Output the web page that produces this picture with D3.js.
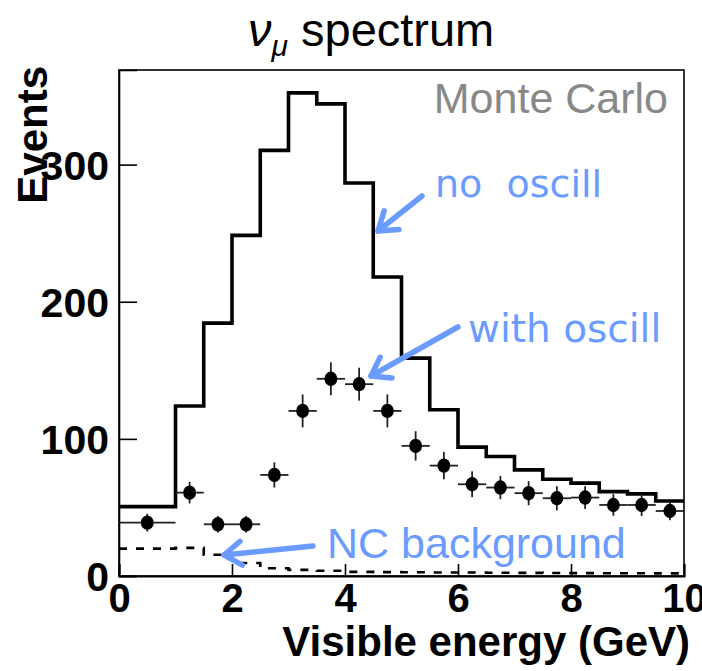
<!DOCTYPE html>
<html>
<head>
<meta charset="utf-8">
<script src="https://cdn.jsdelivr.net/npm/d3@7"></script>
<style>
  html, body { margin: 0; padding: 0; background: #fff; }
  svg { display: block; }
</style>
</head>
<body>
<svg id="chart" width="702" height="671"></svg>
<script>
// Bin edges of the visible-energy histograms (GeV): one 1 GeV bin, then 0.5 GeV bins
const binEdges = [0, 1, 1.5, 2, 2.5, 3, 3.5, 4, 4.5, 5, 5.5, 6, 6.5, 7, 7.5, 8, 8.5, 9, 9.5, 10];

// Monte Carlo expectation without oscillation (events per bin)
const noOscill = [50.6, 124, 184.4, 248.4, 310.4, 352.3, 344.3, 286.6, 218, 158.9,
                  121.2, 94, 87.1, 77.4, 70.6, 67.7, 61.5, 59.9, 54.7];

// Monte Carlo expectation with oscillation (points with statistical errors)
const withOscill = [38.9, 60.8, 37.7, 37.7, 73.7, 120.4, 143.8, 139.9, 120.4, 94.9,
                    80.5, 66.9, 64.5, 60.4, 56.7, 57.2, 51.8, 51.8, 47.4];
const withOscillErr = [6.5, 7.9, 6, 6, 9.2, 12, 12, 12, 12, 10.7,
                       10, 9.4, 8.5, 8.8, 8.8, 8.3, 7.9, 8, 6.7];

// Neutral-current background
const ncBackground = [20, 20.5, 15.5, 9.5, 5.6, 4.5, 3.8, 3, 2.8, 2.7,
                      2.6, 2.5, 2.4, 2.3, 2.2, 2.1, 2, 2, 1.9];

const xTicks = [0, 2, 4, 6, 8, 10];
const yTicks = [0, 100, 200, 300];

const FONT = "'Liberation Sans', Arial, Helvetica, sans-serif";
const BLUE = "#6b9bff";

const svg = d3.select("#chart");

const x = d3.scaleLinear().domain([0, 10]).range([119, 684]);
const y = d3.scaleLinear().domain([0, 369]).range([576, 70]);

// Step path through the bins of a histogram
function stepPath(values) {
  const pts = [];
  values.forEach((v, i) => {
    pts.push([x(binEdges[i]), y(v)]);
    pts.push([x(binEdges[i + 1]), y(v)]);
  });
  return d3.line()(pts);
}

// Frame
svg.append("rect")
  .attr("x", x(0)).attr("y", y(369))
  .attr("width", x(10) - x(0)).attr("height", y(0) - y(369))
  .attr("fill", "none").attr("stroke", "#000").attr("stroke-width", 1.6);

// Axes with inward ticks
const xAxis = d3.axisBottom(x).tickValues(xTicks).tickSize(-12).tickPadding(20).tickFormat(d3.format("d"));
const gx = svg.append("g").attr("transform", `translate(0,${y(0)})`).call(xAxis);
gx.select(".domain").attr("stroke-width", 2);
gx.selectAll(".tick line").attr("stroke-width", 1.6);
gx.selectAll(".tick text")
  .attr("font-family", FONT).attr("font-size", 40).attr("font-weight", "bold")
  .attr("fill", "#000").attr("dy", "0.71em").attr("y", 8);

const yAxis = d3.axisLeft(y).tickValues(yTicks).tickSize(-18).tickPadding(10).tickFormat(d3.format("d"));
const gy = svg.append("g").attr("transform", `translate(${x(0)},0)`).call(yAxis);
gy.select(".domain").attr("stroke-width", 1.6);
gy.selectAll(".tick line").attr("stroke-width", 1.6);
gy.selectAll(".tick text")
  .attr("font-family", FONT).attr("font-size", 41).attr("font-weight", "bold")
  .attr("fill", "#000").attr("x", -10).attr("dy", "0.36em");

// NC background (dashed histogram)
svg.append("path")
  .attr("d", stepPath(ncBackground))
  .attr("fill", "none").attr("stroke", "#000").attr("stroke-width", 2.6)
  .attr("stroke-dasharray", "8,9");

// No-oscillation histogram
svg.append("path")
  .attr("d", stepPath(noOscill))
  .attr("fill", "none").attr("stroke", "#000").attr("stroke-width", 3.6)
  .attr("stroke-linejoin", "miter");

// With-oscillation points
const centers = binEdges.slice(0, -1).map((e, i) => (e + binEdges[i + 1]) / 2);
const pts = svg.append("g");
withOscill.forEach((v, i) => {
  const g = pts.append("g");
  g.append("line")
    .attr("x1", x(binEdges[i])).attr("x2", x(binEdges[i + 1]))
    .attr("y1", y(v)).attr("y2", y(v))
    .attr("stroke", "#222").attr("stroke-width", 1.8);
  g.append("line")
    .attr("x1", x(centers[i])).attr("x2", x(centers[i]))
    .attr("y1", y(v - withOscillErr[i])).attr("y2", y(v + withOscillErr[i]))
    .attr("stroke", "#222").attr("stroke-width", 1.8);
  g.append("ellipse")
    .attr("cx", x(centers[i])).attr("cy", y(v))
    .attr("rx", 6.4).attr("ry", 7.2)
    .attr("fill", "#000");
});

// Axis titles
svg.append("text")
  .attr("x", 690).attr("y", 656)
  .attr("text-anchor", "end")
  .attr("font-family", FONT).attr("font-size", 42).attr("font-weight", "bold")
  .text("Visible energy (GeV)");

svg.append("text")
  .attr("transform", "translate(47,66) rotate(-90)")
  .attr("text-anchor", "end")
  .attr("font-family", FONT).attr("font-size", 42).attr("font-weight", "bold")
  .text("Events");

// Title
const title = svg.append("text")
  .attr("x", 248).attr("y", 46)
  .attr("font-family", FONT).attr("font-size", 47);
title.append("tspan").attr("font-style", "italic").text("ν");
title.append("tspan").attr("font-style", "italic").attr("font-size", 30).attr("dy", 10).text("μ");
title.append("tspan").attr("dy", -10).text(" spectrum");

// Monte Carlo label
svg.append("text")
  .attr("x", 668).attr("y", 113)
  .attr("text-anchor", "end")
  .attr("font-family", FONT).attr("font-size", 43).attr("fill", "#888")
  .text("Monte Carlo");

// Annotation arrows
function arrow(x1, y1, x2, y2) {
  const ang = Math.atan2(y2 - y1, x2 - x1);
  const len = 21, spread = Math.PI / 5.2;
  const a1 = [x2 - len * Math.cos(ang - spread), y2 - len * Math.sin(ang - spread)];
  const a2 = [x2 - len * Math.cos(ang + spread), y2 - len * Math.sin(ang + spread)];
  const g = svg.append("g")
    .attr("stroke", BLUE).attr("stroke-width", 5.5)
    .attr("stroke-linecap", "round").attr("stroke-linejoin", "round")
    .attr("fill", "none");
  g.append("line").attr("x1", x1).attr("y1", y1).attr("x2", x2).attr("y2", y2);
  g.append("path").attr("d", d3.line()([a1, [x2, y2], a2]));
}

arrow(422, 196, 378, 231);
arrow(458, 327, 371, 376);
arrow(313, 546, 224, 555);

// Annotation labels
const HAND = "'Comic Sans MS', 'DejaVu Sans', sans-serif";
svg.append("text")
  .attr("x", 435).attr("y", 197)
  .attr("font-family", HAND).attr("font-size", 38).attr("fill", BLUE)
  .style("white-space", "pre")
  .text("no  oscill");

svg.append("text")
  .attr("x", 468).attr("y", 342)
  .attr("font-family", HAND).attr("font-size", 39).attr("fill", BLUE)
  .text("with oscill");

svg.append("text")
  .attr("x", 327).attr("y", 558)
  .attr("font-family", FONT).attr("font-size", 43).attr("fill", BLUE)
  .text("NC background");
</script>
</body>
</html>
